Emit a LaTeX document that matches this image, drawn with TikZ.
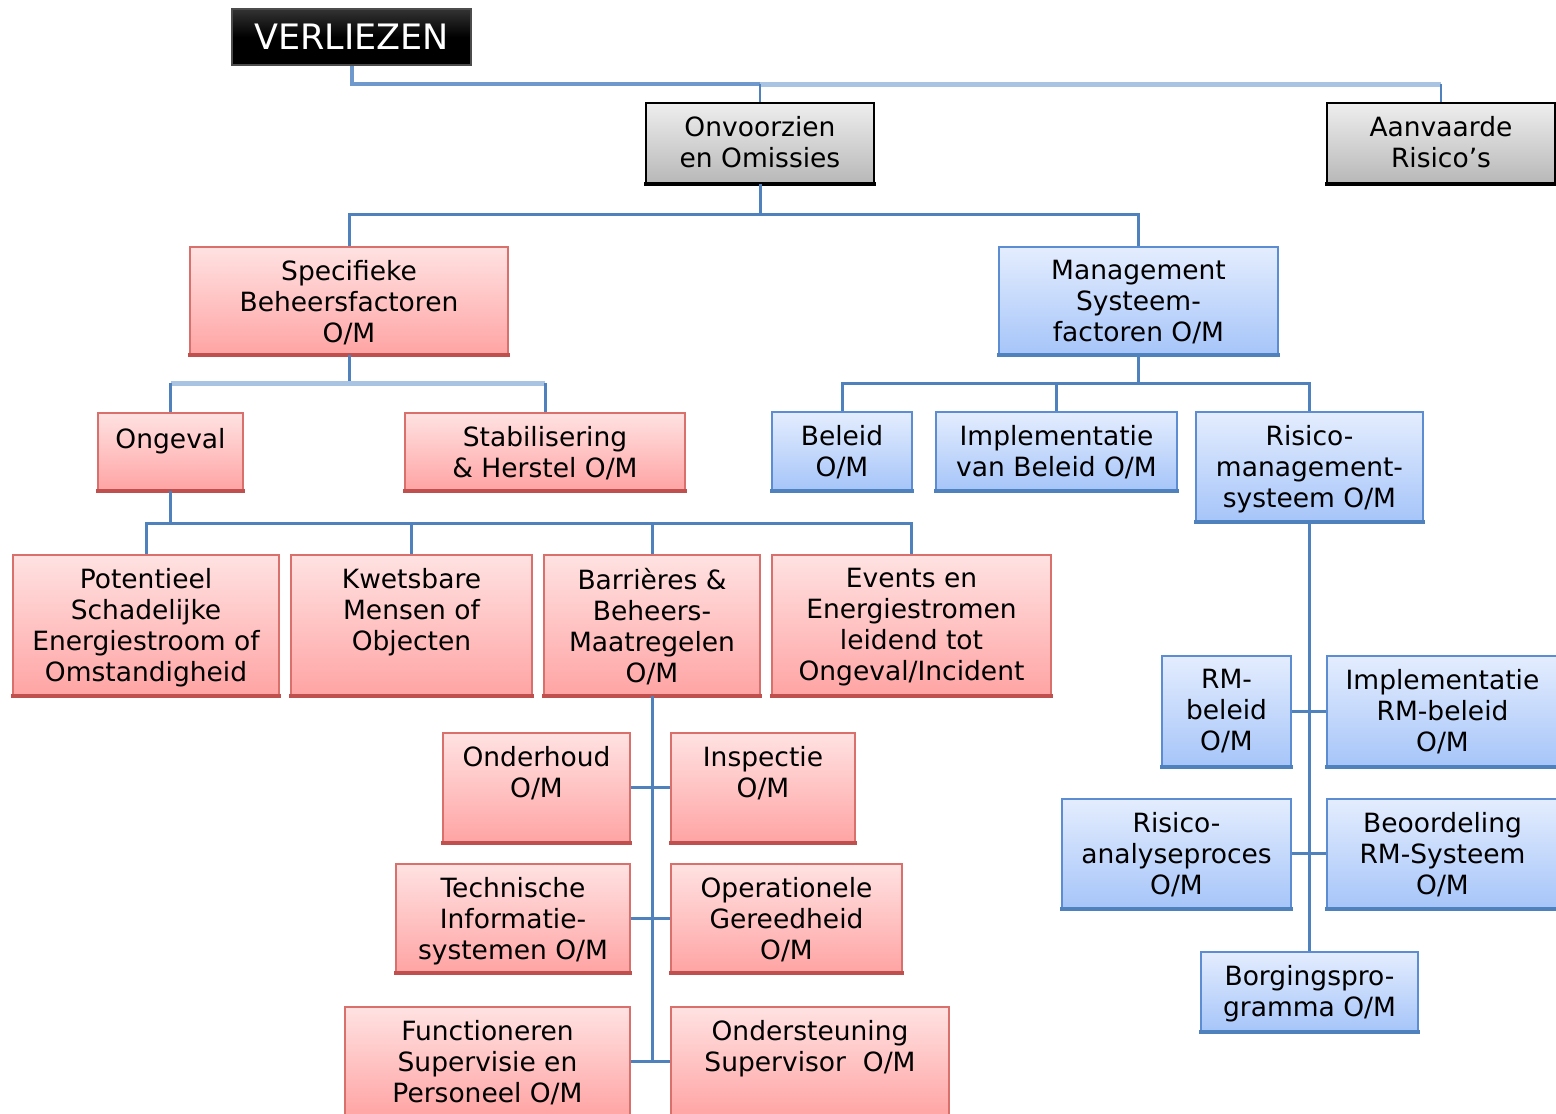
\documentclass[tikz,border=0pt]{standalone}
\usepackage{fontspec}
\setmainfont{DejaVu Sans}
\definecolor{redt}{HTML}{FFE2E2}
\definecolor{redbot}{HTML}{FFA4A4}
\definecolor{redb}{HTML}{D9706C}
\definecolor{rede}{HTML}{C0504D}
\definecolor{bluet}{HTML}{E4EDFE}
\definecolor{bluebot}{HTML}{A6C5F9}
\definecolor{blueb}{HTML}{5C8DD2}
\definecolor{bluee}{HTML}{4F81BD}
\definecolor{grayt}{HTML}{EEEEEE}
\definecolor{graybot}{HTML}{B8B8B8}
\definecolor{conn}{HTML}{4F81BD}
\definecolor{connmid}{HTML}{6F98CC}
\definecolor{connlight}{HTML}{A9C3E2}
\tikzset{
  redbox/.style={draw=redb, line width=1.8pt, top color=redt, bottom color=redbot, inner sep=0pt},
  bluebox/.style={draw=blueb, line width=1.8pt, top color=bluet, bottom color=bluebot, inner sep=0pt},
  graybox/.style={draw=black, line width=1.8pt, top color=grayt, bottom color=graybot, inner sep=0pt},
  rededge/.style={draw=rede, line width=3.5pt},
  blueedge/.style={draw=bluee, line width=3.5pt},
  grayedge/.style={draw=black, line width=3.5pt},
  txt/.style={inner sep=0pt, align=center, font=\fontsize{26.5}{31}\selectfont, execute at begin node=\strut},
  link/.style={draw=conn, line width=3pt},
  linkmid/.style={draw=connmid, line width=4pt},
  linklight/.style={draw=connlight, line width=5pt},
}
\newcommand\mkbox[7]{%
  \node[#1box, minimum width={#5-#3}, minimum height={#6-#4}] (#2) at ({(#3+#5)/2},{(#4+#6)/2}) {};
  \draw[#1edge] ([xshift=-0.9pt]#2.south west) -- ([xshift=0.9pt]#2.south east);
  \node[txt, anchor=north] (#2-t) at ([yshift=-14pt]#2.north) {#7};
}
\begin{document}
\begin{tikzpicture}[x=1pt,y=-1pt]
\useasboundingbox (0,0) rectangle (1556,1114);
\fill[white] (0,0) rectangle (1556,1114);

\coordinate (j0) at (760,84);
\coordinate (j1) at (1441,84);

% top level
\node[top color=black!80, bottom color=black, middle color=black, draw=black!70, line width=1.5pt, minimum width=239, minimum height=56, inner sep=0pt,
      text=white, font=\fontsize{35}{40}\selectfont] (verliezen) at (351.5,37) {VERLIEZEN};

% boxes
\mkbox{gray}{onv}{646}{103}{874}{183}{Onvoorzien\\en Omissies}
\mkbox{gray}{aanv}{1327}{103}{1555}{183}{Aanvaarde\\Risico’s}

\mkbox{red}{spec}{190}{247}{508}{354}{Specifieke\\Beheersfactoren\\O/M}
\mkbox{blue}{mgmt}{999}{247}{1278}{354}{Management\\Systeem-\\factoren O/M}

\mkbox{red}{ong}{98}{413}{243}{490}{Ongeval}
\mkbox{red}{stab}{405}{413}{685}{490}{Stabilisering\\\& Herstel O/M}

\mkbox{blue}{bel}{772}{412}{912}{490}{Beleid\\O/M}
\mkbox{blue}{impl}{936}{412}{1177}{490}{Implementatie\\van Beleid O/M}
\mkbox{blue}{rms}{1196}{412}{1423}{521}{Risico-\\management-\\systeem O/M}

\mkbox{red}{pot}{13}{555}{279}{695}{Potentieel\\Schadelijke\\Energiestroom of\\Omstandigheid}
\mkbox{red}{kwe}{291}{555}{532}{695}{Kwetsbare\\Mensen of\\Objecten}
\mkbox{red}{bar}{544}{555}{760}{695}{Barrières \&\\Beheers-\\Maatregelen\\O/M}
\mkbox{red}{evt}{772}{555}{1051}{695}{Events en\\Energiestromen\\leidend tot\\Ongeval/Incident}

\mkbox{red}{ond}{443}{733}{630}{842}{Onderhoud\\O/M}
\mkbox{red}{insp}{671}{733}{855}{842}{Inspectie\\O/M}
\mkbox{red}{tech}{396}{864}{630}{972}{Technische\\Informatie-\\systemen O/M}
\mkbox{red}{oper}{671}{864}{902}{972}{Operationele\\Gereedheid\\O/M}
\mkbox{red}{func}{345}{1007}{630}{1116}{Functioneren\\Supervisie en\\Personeel O/M}
\mkbox{red}{onds}{671}{1007}{949}{1116}{Ondersteuning\\Supervisor\ \ O/M}

\mkbox{blue}{rmb}{1162}{656}{1291}{766}{RM-\\beleid\\O/M}
\mkbox{blue}{irm}{1327}{656}{1558}{766}{Implementatie\\RM-beleid\\O/M}
\mkbox{blue}{ana}{1062}{799}{1291}{908}{Risico-\\analyseproces\\O/M}
\mkbox{blue}{beo}{1327}{799}{1558}{908}{Beoordeling\\RM-Systeem\\O/M}
\mkbox{blue}{borg}{1201}{952}{1418}{1031}{Borgingspro-\\gramma O/M}

% ---- connectors ----
\draw[linkmid] (verliezen.south) -- (verliezen.south |- j0) -- (j0);
\draw[linklight] (j0) -- (j1);
\draw[link, line width=2pt] (j0) -- (onv.north);
\draw[link, line width=2pt] (j1) -- (aanv.north);

\draw[link] (onv.south) -- ++(0,31) -| (spec.north);
\draw[link] (onv.south) ++(0,31) -| (mgmt.north);

\draw[link] (spec.south) -- ++(0,29);
\draw[linklight] (ong.north |- 0,383) -- (stab.north |- 0,383);
\draw[link] (ong.north |- 0,383) -- (ong.north);
\draw[link] (stab.north |- 0,383) -- (stab.north);

\draw[link] (mgmt.south) -- ++(0,29) -| (bel.north);
\draw[link] (mgmt.south) ++(0,29) -| (impl.north);
\draw[link] (mgmt.south) ++(0,29) -| (rms.north);

\draw[link] (ong.south) -- ++(0,33) -| (pot.north);
\draw[link] (ong.south) ++(0,33) -| (kwe.north);
\draw[link] (ong.south) ++(0,33) -| (bar.north);
\draw[link] (ong.south) ++(0,33) -| (evt.north);

\draw[link] (bar.south) -- (bar.south |- func.east);
\draw[link] (ond.east) -- (insp.west);
\draw[link] (tech.east) -- (oper.west);
\draw[link] (func.east) -- (onds.west);

\draw[link] (rms.south) -- (borg.north);
\draw[link] (rmb.east) -- (irm.west);
\draw[link] (ana.east) -- (beo.west);
\end{tikzpicture}
\end{document}
